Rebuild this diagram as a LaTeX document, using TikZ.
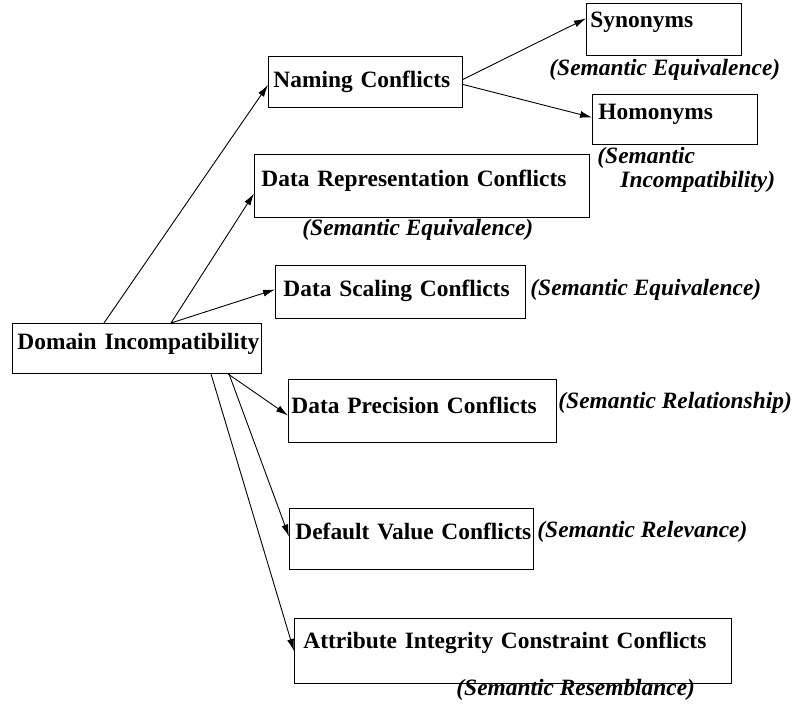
\documentclass[tikz,border=0pt]{standalone}
\usepackage{fontspec}
\setmainfont{Liberation Serif}
\usepackage{tikz}
\usetikzlibrary{arrows.meta}

\begin{document}
\begin{tikzpicture}[x=1pt,y=-1pt,line width=0.9pt,>={Latex[length=12pt,width=7pt]},
	font=\fontsize{23.4}{22}\selectfont\bfseries,
	box/.style={draw,anchor=north west,inner sep=0pt,align=left},
	sem/.style={anchor=base west,inner sep=0pt,align=left,font=\fontsize{23.4}{24}\selectfont\bfseries\itshape}]
	\useasboundingbox (0,0) rectangle (793,713);
	\node[box,text width=249pt,text height=26pt,text depth=24pt] at (12,323) (dom) {\hspace*{5pt}Domain Incompatibility};
	\node[box,text width=194pt,text height=31pt,text depth=20pt] at (268,56) (naming) {\hspace*{5pt}Naming Conflicts};
	\node[box,text width=155pt,text height=24pt,text depth=28pt] at (586,3) (syn) {\hspace*{4pt}Synonyms};
	\node[box,text width=165pt,text height=25pt,text depth=25pt] at (592,94) (hom) {\hspace*{6pt}Homonyms};
	\node[box,text width=335pt,text height=32pt,text depth=31pt] at (254,154) (rep) {\hspace*{7pt}Data Representation Conflicts};
	\node[box,text width=250pt,text height=31pt,text depth=22pt] at (275,265) (scal) {\hspace*{8pt}Data Scaling Conflicts};
	\node[box,text width=268pt,text height=34pt,text depth=29pt] at (288,379) (prec) {\hspace*{3pt}Data Precision Conflicts};
	\node[box,text width=244pt,text height=31pt,text depth=30pt] at (289,508) (dflt) {\hspace*{6pt}Default Value Conflicts};
	\node[box,text width=437pt,text height=30pt,text depth=35pt] at (294,618) (attr) {\hspace*{9pt}Attribute Integrity Constraint Conflicts};
	% semantic labels
	\node[sem] at (549,75) (synlab) {(Semantic Equivalence)};
	\node[sem] at (597,187) (homlab) {(Semantic\\\hspace*{23pt}Incompatibility)};
	\node[sem] at (302,235) (replab) {(Semantic Equivalence)};
	\node[sem] at (530,295) (scallab) {(Semantic Equivalence)};
	\node[sem] at (558,408) (preclab) {(Semantic Relationship)};
	\node[sem] at (537,537) (dfltlab) {(Semantic Relevance)};
	\node[sem] at (456,695) (attrlab) {(Semantic Resemblance)};
	% arrows
	\path[->] ([xshift=92pt]dom.north west) edge ([yshift=-3pt]naming.west);
	\path[->] ([xshift=159pt]dom.north west) edge ([yshift=-7.5pt]rep.west);
	\path[->] ([xshift=159pt]dom.north west) edge ([yshift=2.5pt]scal.west);
	\path[->] ([xshift=216pt]dom.south west) edge ([yshift=-4.5pt]prec.west);
	\path[->] ([xshift=217pt]dom.south west) edge ([yshift=2.5pt]dflt.west);
	\path[->] ([xshift=199pt]dom.south west) edge (attr.west);
	\path[->] ([yshift=2.5pt]naming.east) edge ([yshift=11pt]syn.west);
	\path[->] ([yshift=-2.5pt]naming.east) edge ([yshift=2pt]hom.west);
\end{tikzpicture}
\end{document}
